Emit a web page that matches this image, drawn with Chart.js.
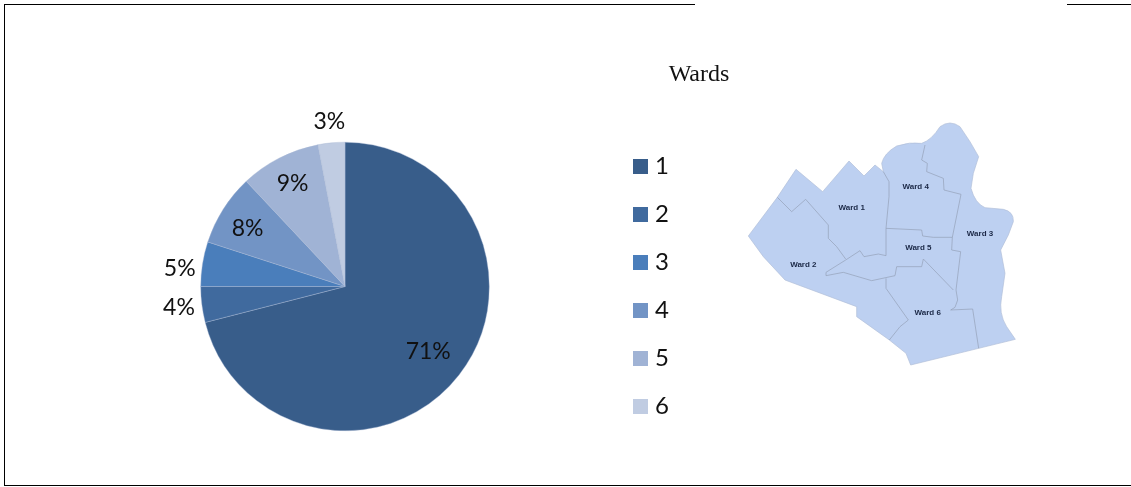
<!DOCTYPE html>
<html>
<head>
<meta charset="utf-8">
<title>Wards</title>
<script src="https://cdn.jsdelivr.net/npm/chart.js@4"></script>
<style>
  html, body { margin: 0; padding: 0; background: #fff; }
  #page { position: relative; width: 1131px; height: 487px; overflow: hidden; }
  #chart { position: absolute; left: 0; top: 0; }
  .rule { position: absolute; background: #000; }
  #title { position: absolute; left: 640px; width: 118px; top: 60px; text-align: center;
           font: 24px "Liberation Serif", serif; color: #111; }
  #legend { position: absolute; left: 633px; top: 141px; }
  #legend div { height: 48px; display: flex; align-items: center;
                font: 24px/1 Lato, sans-serif; color: #111; }
  #legend i { width: 15px; height: 15px; margin-right: 7px; margin-top: 2px; }
  #map { position: absolute; left: 740px; top: 110px; }
  #map text { font: bold 24px "Liberation Sans", sans-serif; fill: #1b2846; text-anchor: middle; }
</style>
</head>
<body>
<div id="page">
  <canvas id="chart" width="1131" height="487"></canvas>
  <div class="rule" style="left:4px;top:4px;width:691px;height:1px"></div>
  <div class="rule" style="left:1067px;top:4px;width:64px;height:1px"></div>
  <div class="rule" style="left:4px;top:4px;width:1px;height:481px"></div>
  <div class="rule" style="left:4px;top:485px;width:1127px;height:1px"></div>
  <div id="title">Wards</div>
  <div id="legend"></div>

  <!-- the ward map, a picture in the original -->
  <svg id="map" width="290" height="260" viewBox="0 0 870 780">
    <defs><filter id="soft"><feGaussianBlur stdDeviation="1.1"/></filter></defs>
    <g filter="url(#soft)">
      <path fill="#bdd0f1" stroke="#b0bed8" stroke-width="2" stroke-linejoin="round"
        d="M25 378 L112 262 L168 178 L248 245 L327 153 L372 198 L405 165 L430 185 L425 160 Q432 130 470 108 Q510 95 545 100 Q575 90 600 50 Q630 28 660 50 L690 95 L716 140 L700 190 L693 235 Q705 280 735 293 L790 298 Q822 305 820 335 L805 375 L782 420 L795 490 L785 560 Q775 610 800 650 L826 688 L716 715 L512 765 L498 730 L448 690 L350 620 L350 590 L135 510 L70 440 Z"/>
      <g fill="none" stroke="#939fb5" stroke-width="2" stroke-linejoin="round">
        <path d="M112 262 L155 305 L197 268 L265 345 L265 385 L290 410 L317 447"/>
        <path d="M438 437 L415 432 L372 440 L360 422 L317 450 L258 487 L258 497 L310 487 L395 512 L465 497 L470 470 L545 470 L550 447 L640 540"/>
        <path d="M430 185 L447 215 L447 260 L438 355 L438 437"/>
        <path d="M438 355 L545 360 L548 378 L580 382 L637 382"/>
        <path d="M555 105 L545 150 L562 160 L560 185 L610 205 L612 240 L663 253 L637 382 L635 420 L662 425 L648 540 L653 570 L645 592 L632 600 L698 597 L716 715"/>
        <path d="M438 505 L438 535 L505 630 L480 650 L448 690"/>
      </g>
      <text x="335" y="300">Ward 1</text>
      <text x="190" y="471">Ward 2</text>
      <text x="720" y="378">Ward 3</text>
      <text x="527" y="237">Ward 4</text>
      <text x="535" y="421">Ward 5</text>
      <text x="563" y="615">Ward 6</text>
    </g>
  </svg>
</div>

<script>
const wards = ["1", "2", "3", "4", "5", "6"];
const shares = [71, 4, 5, 8, 9, 3];
const colors = ["#385d8a", "#406a9e", "#4a7ebb", "#7294c5", "#a0b3d5", "#c0cce2"];
const labelRadius = [0.73, 1.16, 1.16, 0.8, 0.8, 1.15];
const labelDrop = [1, 0, 8, 4, 0, 0];

// percent labels, drawn at each slice's middle angle
const sliceLabels = {
  id: "sliceLabels",
  afterDatasetsDraw(chart) {
    const ctx = chart.ctx;
    ctx.save();
    ctx.font = '23px Lato, sans-serif';
    ctx.fillStyle = "#111";
    ctx.textAlign = "center";
    ctx.textBaseline = "middle";
    chart.getDatasetMeta(0).data.forEach((arc, i) => {
      const mid = (arc.startAngle + arc.endAngle) / 2;
      const r = arc.outerRadius * labelRadius[i];
      ctx.fillText(shares[i] + "%", arc.x + Math.cos(mid) * r, arc.y + Math.sin(mid) * r + labelDrop[i]);
    });
    ctx.restore();
  }
};

const chart = new Chart(document.getElementById("chart"), {
  type: "pie",
  data: {
    labels: wards,
    datasets: [{
      data: shares,
      backgroundColor: colors,
      borderColor: "#a9b9d4",
      borderWidth: 0.4
    }]
  },
  options: {
    responsive: false,
    animation: false,
    layout: { padding: { left: 0, right: 441, top: 142, bottom: 56 } },
    plugins: {
      tooltip: { enabled: false },
      legend: { display: false }
    }
  },
  plugins: [sliceLabels]
});

// legend built from the chart's own labels and colours
const legendEl = document.getElementById("legend");
chart.data.labels.forEach((name, i) => {
  const row = document.createElement("div");
  const box = document.createElement("i");
  box.style.background = chart.data.datasets[0].backgroundColor[i];
  row.append(box, name);
  legendEl.append(row);
});
</script>
</body>
</html>
